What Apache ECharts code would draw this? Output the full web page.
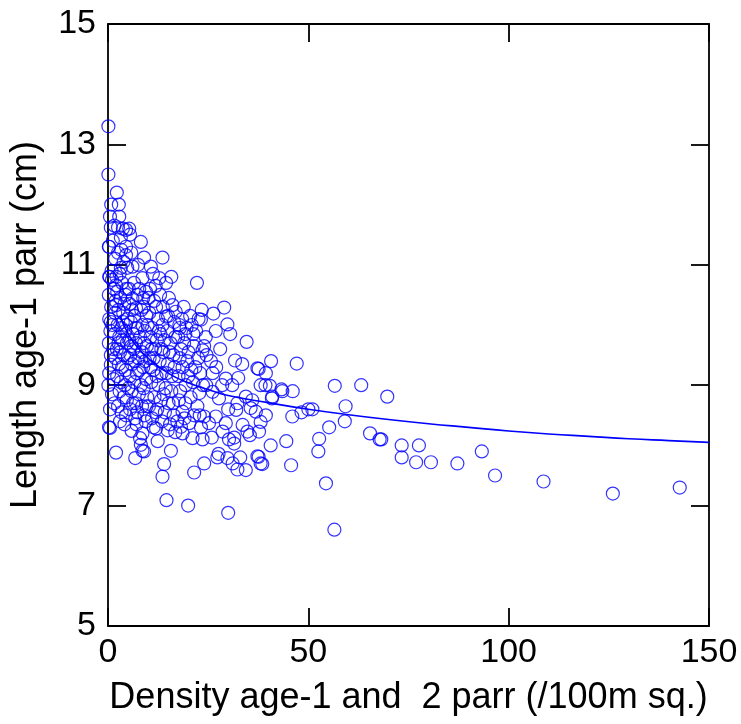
<!DOCTYPE html>
<html><head><meta charset="utf-8">
<script src="https://cdn.jsdelivr.net/npm/echarts@6/dist/echarts.min.js"></script>
<style>html,body{margin:0;padding:0;background:#fff}#c{width:741px;height:724px}</style>
</head><body><div id="c"></div>
<script>
const xTicks = [0, 50, 100, 150];
const yTicks = [5, 7, 9, 11, 13, 15];
const xTitle = 'Density age-1 and  2 parr (/100m sq.)';
const yTitle = 'Length age-1 parr (cm)';

// observed points [density, length]
const bandA = [[0.1,13.3],[0.1,12.5],[2.2,12.2],[2.7,12.0],[0.8,12.0],[2.8,11.8],[0.5,11.8],[1.6,11.65],[0.3,11.3],[1.2,11.4],[1.8,11.1],[0.4,10.8],[1.0,10.75],[1.5,10.6],[0.2,10.5],[0.8,10.3],[1.9,10.4],[0.3,10.1],[1.1,10.0],[0.6,9.9],[1.7,9.85],[0.2,9.7],[1.3,9.6],[0.7,9.5],[1.9,9.45],[0.7,9.34],[0.3,9.2],[1.4,9.1],[0.1,9.0],[1.0,8.85],[0.5,8.6],[1.6,8.7],[0.25,8.3],[0.5,8.29],[2.0,7.88],[1.8,10.2],[0.9,10.9],[0.7,11.62],[2.0,10.66],[0.3,10.8],[0.2,11.3],[2.0,10.33],[0.7,10.05]];
const bandB = [[3.7,11.6],[5.3,11.6],[2.5,11.62],[4.5,11.58],[3.2,11.45],[4.5,11.3],[2.5,11.2],[3.9,11.05],[4.8,10.95],[2.9,10.85],[3.5,10.7],[4.6,10.6],[2.3,10.55],[3.1,10.45],[4.1,10.35],[2.6,10.25],[3.8,10.2],[4.9,10.1],[2.4,10.0],[3.3,9.95],[4.3,9.9],[2.8,9.8],[3.6,9.75],[4.7,9.7],[2.2,9.6],[3.0,9.55],[4.0,9.5],[4.9,9.45],[2.7,9.35],[3.5,9.3],[4.4,9.25],[2.3,9.15],[3.2,9.05],[4.2,9.0],[2.9,8.9],[3.9,8.8],[4.7,8.75],[2.5,8.65],[3.4,8.55],[4.5,8.5],[3.0,8.4],[4.1,8.35],[2.6,9.7],[3.7,10.05],[4.4,10.5],[2.1,10.8],[3.3,11.25],[4.5,11.16],[3.2,10.95],[4.5,10.0]];
const bandC = [[5.5,11.5],[8.2,11.38],[9.0,11.12],[6.1,10.97],[8.6,10.78],[9.5,10.55],[6.1,10.44],[7.0,10.28],[8.6,10.0],[5.8,11.2],[7.5,11.0],[6.5,10.7],[7.8,10.6],[5.4,10.35],[8.9,10.3],[6.6,10.15],[9.6,10.15],[5.7,10.05],[7.4,9.95],[9.2,9.9],[6.2,9.85],[8.0,9.8],[5.3,9.75],[7.0,9.7],[9.7,9.65],[6.4,9.6],[8.4,9.55],[5.6,9.5],[7.6,9.45],[9.3,9.4],[6.0,9.35],[8.8,9.3],[7.2,9.2],[5.4,9.15],[9.5,9.1],[6.6,9.05],[8.2,9.0],[5.9,8.9],[7.7,8.85],[9.8,8.8],[6.3,8.7],[8.5,8.65],[5.5,8.6],[7.3,8.55],[9.1,8.5],[6.8,8.45],[5.9,8.24],[8.0,8.12],[8.6,8.2],[8.2,8.01],[8.6,7.91],[6.8,7.79],[9.0,7.9],[7.1,8.35],[9.4,8.4],[6.9,9.95],[8.8,10.45],[5.2,10.6],[6.0,10.25],[7.3,10.5],[8.3,10.25],[9.9,10.0],[5.8,9.65],[7.8,9.25],[9.0,9.7],[6.7,9.4],[8.9,8.95],[5.1,8.95],[7.0,8.7],[9.6,8.65]];
const bandD = [[13.6,11.12],[10.7,10.97],[12.8,10.78],[14.5,10.7],[12.0,10.3],[14.5,10.14],[13.6,10.0],[16.1,10.33],[16.9,10.22],[11.2,10.85],[15.8,10.8],[10.5,10.6],[13.0,10.5],[11.5,10.4],[15.2,10.45],[10.3,10.2],[12.5,10.1],[16.5,10.05],[11.0,9.95],[14.8,9.9],[10.6,9.8],[12.2,9.75],[15.6,9.7],[11.8,9.6],[13.8,9.55],[16.3,9.5],[10.4,9.45],[12.9,9.4],[14.9,9.35],[11.3,9.25],[13.4,9.2],[16.0,9.15],[10.8,9.05],[12.6,9.0],[14.4,8.95],[15.8,8.9],[11.6,8.8],[13.2,8.75],[15.1,8.7],[10.2,8.65],[12.3,8.6],[14.2,8.55],[16.4,8.5],[11.0,8.45],[13.5,8.4],[15.5,8.35],[12.4,8.07],[15.7,7.91],[14.0,7.69],[13.6,7.48],[14.6,7.09],[12.0,8.28],[14.9,8.25],[16.8,8.22],[11.4,8.3],[10.9,9.6],[13.1,9.85],[10.1,10.45],[11.9,10.65],[13.7,10.3],[15.0,10.15],[12.7,9.9],[14.1,9.75],[16.8,9.8],[11.4,9.45],[13.3,9.6],[15.4,9.55],[10.6,9.3],[12.1,9.15],[14.6,9.2],[16.6,9.3],[13.9,8.85],[11.9,8.55],[16.2,8.7]];
const bandE = [[22.2,10.7],[23.4,10.25],[23.2,10.09],[17.8,10.0],[18.5,10.1],[19.6,9.95],[20.5,10.15],[21.3,9.85],[17.5,9.8],[19.0,9.7],[22.0,9.9],[24.4,9.8],[18.2,9.6],[20.1,9.55],[23.6,9.58],[21.4,9.65],[17.9,9.45],[19.8,9.4],[22.5,9.45],[24.6,9.5],[18.6,9.3],[20.8,9.25],[23.0,9.2],[17.6,9.15],[19.4,9.0],[21.2,9.05],[22.8,8.87],[24.5,9.0],[18.0,8.9],[20.6,8.8],[18.6,8.56],[21.5,8.5],[24.0,8.48],[20.3,8.37],[18.2,8.31],[18.6,8.2],[21.1,8.12],[23.6,8.1],[24.0,7.7],[21.5,7.55],[20.0,7.0],[19.3,8.7],[22.3,8.65],[17.3,8.4],[23.2,8.3],[18.9,10.3],[20.9,10.0],[22.6,10.1],[19.3,9.85],[24.0,9.65],[17.9,9.95],[21.8,9.3],[20.0,9.15],[23.7,9.0],[19.1,8.45],[22.9,8.5],[17.7,8.75]];
const bandF = [[26.3,10.19],[29.0,10.29],[29.8,10.01],[26.9,9.9],[34.6,9.72],[31.7,9.41],[25.7,9.4],[37.3,9.28],[32.5,9.12],[29.4,9.11],[26.1,9.2],[38.1,9.0],[34.4,8.81],[36.0,8.75],[32.3,8.7],[35.6,8.62],[36.9,8.56],[32.0,8.59],[27.7,8.78],[26.9,8.48],[29.4,8.37],[33.6,8.34],[25.2,8.37],[26.1,8.89],[37.7,8.23],[34.8,8.23],[28.6,8.23],[25.9,8.13],[31.5,8.13],[31.5,8.03],[35.4,8.17],[30.2,8.1],[27.6,7.86],[27.3,7.8],[29.8,7.79],[33.0,7.8],[37.3,7.82],[38.1,7.7],[31.1,7.7],[32.3,7.6],[34.4,7.59],[30.0,6.88],[28.0,9.6],[30.5,9.85],[27.0,9.3],[31.0,9.0],[33.5,9.35],[28.5,9.0],[30.0,8.6],[37.6,9.27],[39.4,9.2],[39.3,9.0],[38.5,7.69],[37.6,7.81],[39.4,8.5],[38.1,8.39]];
const bandG = [[40.7,9.4],[47.1,9.36],[40.4,8.99],[43.3,8.93],[43.5,8.9],[46.1,8.9],[41.0,8.81],[40.9,8.78],[46.0,8.48],[48.3,8.55],[50.0,8.6],[51.0,8.6],[56.6,8.99],[59.3,8.65],[59.1,8.4],[55.2,8.3],[52.7,8.11],[52.5,7.9],[44.5,8.07],[40.6,8.0],[45.7,7.67],[54.4,7.37],[56.5,6.6],[63.2,9.0],[69.7,8.81],[65.4,8.2],[67.8,8.1],[68.2,8.1],[73.3,8.0],[77.6,8.0],[73.3,7.8],[76.9,7.72],[80.6,7.72],[87.2,7.7],[93.3,7.9],[96.6,7.5],[108.7,7.4],[126.0,7.2],[142.7,7.3]];

// fitted curve
const fitX = [3, 5, 7, 10, 15, 20, 25, 30, 40, 50, 60, 70, 80, 90, 100, 110, 120, 130, 140, 150];
const fitY = [10.15, 9.86, 9.66, 9.45, 9.2, 9.04, 8.93, 8.83, 8.71, 8.6, 8.51, 8.43, 8.36, 8.3, 8.24, 8.19, 8.15, 8.11, 8.08, 8.05];

const points = [].concat(bandA, bandB, bandC, bandD, bandE, bandF, bandG);
const fit = fitX.map((x, i) => [x, fitY[i]]);

const FONT = 'Liberation Sans';
const BLUE = '#0000ff';
const axisLine = { show: true, onZero: false, lineStyle: { color: '#000', width: 1.8 } };
const tick = { show: true, inside: true, length: 18, lineStyle: { color: '#000', width: 1.8 } };
const lbl = { color: '#000', fontFamily: FONT, fontSize: 34 };

const chart = echarts.init(document.getElementById('c'), null, { renderer: 'canvas' });
chart.setOption({
  animation: false,
  backgroundColor: '#fff',
  grid: { left: 107, right: 32, top: 24, bottom: 98, containLabel: false },
  xAxis: [
    { type: 'value', min: xTicks[0], max: xTicks[xTicks.length-1], interval: 50, position: 'bottom',
      axisLine, axisTick: tick, splitLine: { show: false },
      axisLabel: Object.assign({ margin: 10 }, lbl),
      name: xTitle, nameLocation: 'middle', nameGap: 54,
      nameTextStyle: { color: '#000', fontFamily: FONT, fontSize: 36 } },
    { type: 'value', min: xTicks[0], max: xTicks[xTicks.length-1], interval: 50, position: 'top',
      axisLine, axisTick: tick, splitLine: { show: false }, axisLabel: { show: false } }
  ],
  yAxis: [
    { type: 'value', min: yTicks[0], max: yTicks[yTicks.length-1], interval: 2, position: 'left',
      axisLine, axisTick: tick, splitLine: { show: false },
      axisLabel: Object.assign({ margin: 12 }, lbl),
      name: yTitle, nameLocation: 'middle', nameGap: 64, nameRotate: 90,
      nameTextStyle: { color: '#000', fontFamily: FONT, fontSize: 36 } },
    { type: 'value', min: yTicks[0], max: yTicks[yTicks.length-1], interval: 2, position: 'right',
      axisLine, axisTick: tick, splitLine: { show: false }, axisLabel: { show: false } }
  ],
  series: [
    { type: 'scatter', data: points, symbol: 'circle', symbolSize: 13,
      itemStyle: { color: 'rgba(0,0,0,0)', borderColor: BLUE, borderWidth: 1.2 } },
    { type: 'line', data: fit, smooth: true, showSymbol: false,
      lineStyle: { color: BLUE, width: 1.6 } }
  ]
});
</script></body></html>
